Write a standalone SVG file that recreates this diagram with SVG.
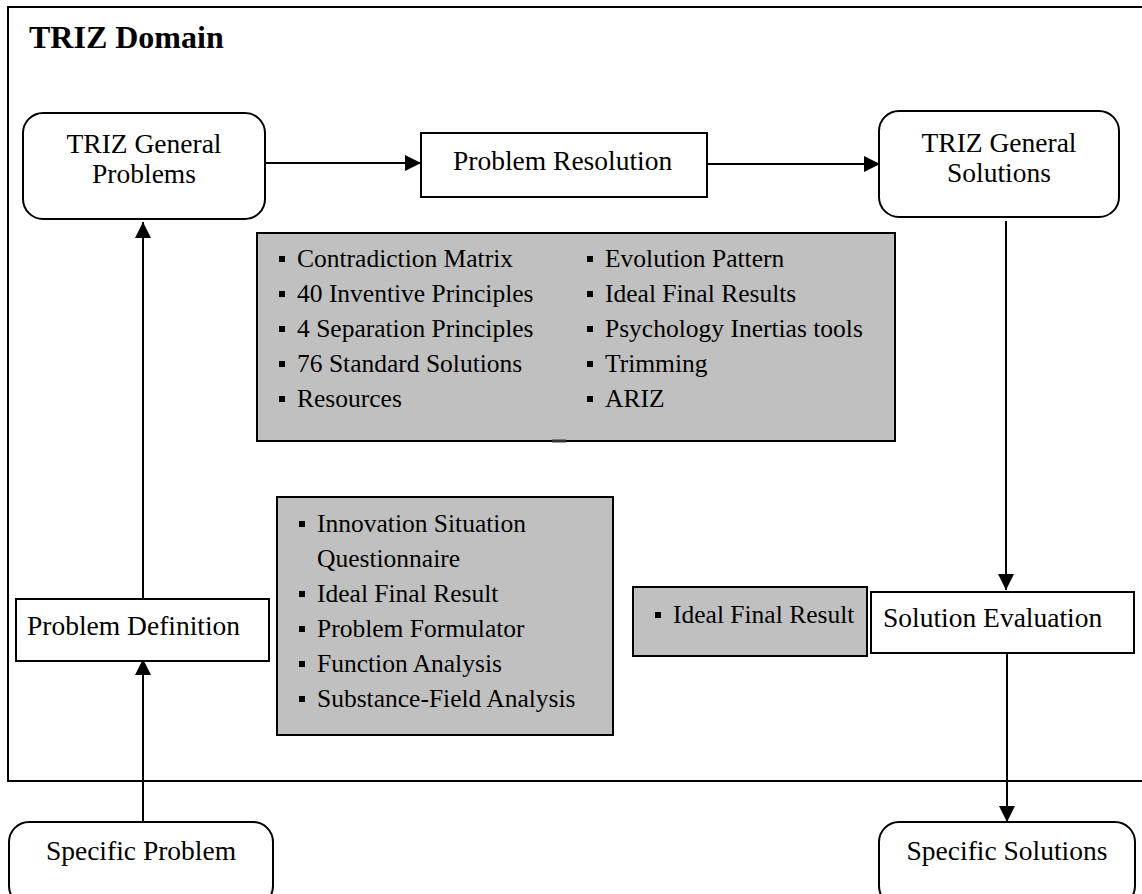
<svg xmlns="http://www.w3.org/2000/svg" xmlns:xlink="http://www.w3.org/1999/xlink" width="1142" height="894" viewBox="0 0 1142 894">
  <defs>
    <style>
      .box { fill: #ffffff; stroke: #000000; stroke-width: 2; }
      .tool { fill: #c0c0c0; stroke: #000000; stroke-width: 2; }
      .frame { fill: none; stroke: #000000; stroke-width: 2; }
      text { font-family: 'Liberation Serif', 'Tinos', 'Times New Roman', Times, 'Nimbus Roman', 'Nimbus Roman No9 L', 'FreeSerif', 'Noto Serif', 'DejaVu Serif', serif; fill: #000000; }
      .lbl { font-size: 27.5px; }
      .mid { text-anchor: middle; }
      .item { font-size: 25.5px; }
      .title { font-size: 32px; font-weight: bold; }
      .link { fill: none; stroke: #000000; stroke-width: 2; }
    </style>
    <marker id="arrow" markerUnits="userSpaceOnUse" markerWidth="16" markerHeight="16" refX="16" refY="8" orient="auto">
      <path d="M0,0 L16,8 L0,16 z" fill="#000000"/>
    </marker>
    <rect id="bullet" width="6" height="6" fill="#000000"/>
  </defs>

  <rect width="1142" height="894" fill="#ffffff"/>

  <!-- outer domain frame -->
  <g id="triz-domain">
    <rect class="frame" x="8" y="7" width="1150" height="774"/>
    <text class="title" x="29" y="48">TRIZ Domain</text>
  </g>

  <!-- connectors -->
  <g id="connectors">
    <line class="link" x1="265" y1="163" x2="421" y2="163" marker-end="url(#arrow)"/>
    <line class="link" x1="707" y1="164" x2="880" y2="164" marker-end="url(#arrow)"/>
    <line class="link" x1="1006" y1="221" x2="1006" y2="590" marker-end="url(#arrow)"/>
    <line class="link" x1="1007" y1="653" x2="1007" y2="822" marker-end="url(#arrow)"/>
    <line class="link" x1="143" y1="822" x2="143" y2="659" marker-end="url(#arrow)"/>
    <line class="link" x1="143" y1="599" x2="143" y2="222" marker-end="url(#arrow)"/>
  </g>

  <g id="triz-general-problems">
    <rect class="box" x="23" y="113" width="242" height="106" rx="20" ry="20"/>
    <text class="lbl mid" x="144" y="153">TRIZ General</text>
    <text class="lbl mid" x="144" y="183">Problems</text>
  </g>

  <g id="problem-resolution">
    <rect class="box" x="421" y="133" width="286" height="64"/>
    <text class="lbl" x="453" y="170">Problem Resolution</text>
  </g>

  <g id="triz-general-solutions">
    <rect class="box" x="879" y="111" width="240" height="106" rx="20" ry="20"/>
    <text class="lbl mid" x="999" y="152">TRIZ General</text>
    <text class="lbl mid" x="999" y="182">Solutions</text>
  </g>

  <g id="resolution-tools">
    <rect class="tool" x="257" y="233" width="638" height="208"/>
    <line x1="552" y1="441" x2="566" y2="441" stroke="#333333" stroke-width="3"/>
    <use xlink:href="#bullet" x="279" y="256"/>
    <use xlink:href="#bullet" x="279" y="291"/>
    <use xlink:href="#bullet" x="279" y="326"/>
    <use xlink:href="#bullet" x="279" y="361"/>
    <use xlink:href="#bullet" x="279" y="396"/>
    <text class="item" x="297" y="267">Contradiction Matrix</text>
    <text class="item" x="297" y="302">40 Inventive Principles</text>
    <text class="item" x="297" y="337">4 Separation Principles</text>
    <text class="item" x="297" y="372">76 Standard Solutions</text>
    <text class="item" x="297" y="407">Resources</text>
    <use xlink:href="#bullet" x="587" y="256"/>
    <use xlink:href="#bullet" x="587" y="291"/>
    <use xlink:href="#bullet" x="587" y="326"/>
    <use xlink:href="#bullet" x="587" y="361"/>
    <use xlink:href="#bullet" x="587" y="396"/>
    <text class="item" x="605" y="267">Evolution Pattern</text>
    <text class="item" x="605" y="302">Ideal Final Results</text>
    <text class="item" x="605" y="337">Psychology Inertias tools</text>
    <text class="item" x="605" y="372">Trimming</text>
    <text class="item" x="605" y="407">ARIZ</text>
  </g>

  <g id="definition-tools">
    <rect class="tool" x="277" y="497" width="336" height="238"/>
    <use xlink:href="#bullet" x="299" y="521"/>
    <use xlink:href="#bullet" x="299" y="591"/>
    <use xlink:href="#bullet" x="299" y="626"/>
    <use xlink:href="#bullet" x="299" y="661"/>
    <use xlink:href="#bullet" x="299" y="696"/>
    <text class="item" x="317" y="532">Innovation Situation</text>
    <text class="item" x="317" y="567">Questionnaire</text>
    <text class="item" x="317" y="602">Ideal Final Result</text>
    <text class="item" x="317" y="637">Problem Formulator</text>
    <text class="item" x="317" y="672">Function Analysis</text>
    <text class="item" x="317" y="707">Substance-Field Analysis</text>
  </g>

  <g id="problem-definition">
    <rect class="box" x="16" y="599" width="253" height="62"/>
    <text class="lbl" x="27" y="635">Problem Definition</text>
  </g>

  <g id="evaluation-tools">
    <rect class="tool" x="633" y="587" width="234" height="69"/>
    <use xlink:href="#bullet" x="655" y="612"/>
    <text class="item" x="673" y="623">Ideal Final Result</text>
  </g>

  <g id="solution-evaluation">
    <rect class="box" x="871" y="592" width="263" height="61"/>
    <text class="lbl" x="883" y="627">Solution Evaluation</text>
  </g>

  <g id="specific-problem">
    <rect class="box" x="9" y="822" width="264" height="84" rx="20" ry="20"/>
    <text class="lbl mid" x="141" y="860">Specific Problem</text>
  </g>

  <g id="specific-solutions">
    <rect class="box" x="879" y="822" width="256" height="84" rx="20" ry="20"/>
    <text class="lbl mid" x="1007" y="860">Specific Solutions</text>
  </g>
</svg>
